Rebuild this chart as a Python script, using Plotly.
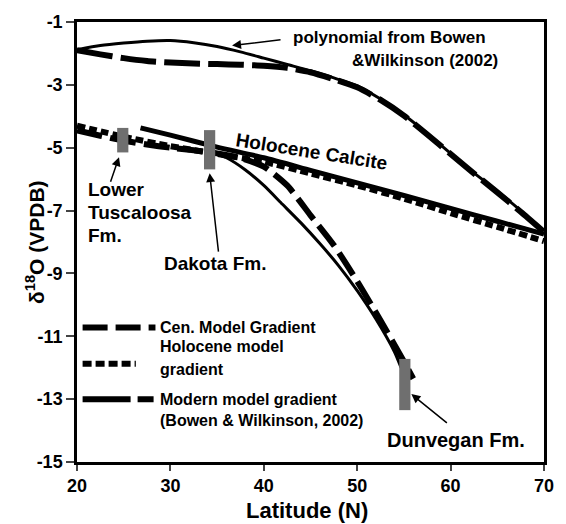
import plotly.graph_objects as go

# ---------------- data ----------------
GRID_LAT = [20, 22.5, 25, 27.5, 30, 32.5, 35, 37.5, 40, 42.5, 45, 47.5, 50, 52.5, 55, 57.5, 60, 62.5, 65, 67.5, 70]
POLY_D = [-1.88, -1.75, -1.67, -1.61, -1.59, -1.66, -1.78, -1.95, -2.15, -2.35, -2.55, -2.78, -3.03,
          -3.45, -3.95, -4.55, -5.18, -5.8, -6.38, -7.0, -7.65]
MODERN_D = [-1.9, -2.03, -2.15, -2.24, -2.29, -2.32, -2.34, -2.36, -2.39, -2.46, -2.6, -2.82, -3.08,
            -3.48, -3.98, -4.58, -5.2, -5.82, -6.42, -7.04, -7.68]

HOLO_LAT = [20, 25, 30, 35, 40, 45, 50, 55, 60, 65, 70]
HOLO_D = [-4.3, -4.65, -4.95, -5.2, -5.45, -5.82, -6.2, -6.62, -7.08, -7.52, -7.97]

CALCITE_LAT = [26.8, 30, 35, 40, 45, 50, 55, 60, 65, 70]
CALCITE_D = [-4.37, -4.6, -4.98, -5.32, -5.72, -6.12, -6.52, -6.93, -7.34, -7.75]

CEN_LAT = [20, 22.5, 25, 27.5, 30, 32.5, 35, 37.5, 40, 42.5, 45, 47.5, 50, 52.5, 55, 56]
CEN_D = [-4.45, -4.62, -4.78, -4.9, -5.0, -5.08, -5.18, -5.33, -5.6, -6.2, -7.15, -8.1, -9.25,
         -10.5, -11.8, -12.35]

SOLID2_LAT = [34, 36, 38, 40, 42, 44, 46, 48, 50, 52, 54, 54.7]
SOLID2_D = [-5.1, -5.32, -5.7, -6.2, -6.8, -7.4, -8.05, -8.75, -9.55, -10.45, -11.5, -12.0]

FM_NAMES = ["Lower<br>Tuscaloosa<br>Fm.", "Dakota Fm.", "Dunvegan Fm."]
FM_LAT = [24.9, 34.2, 55.1]
FM_LO = [-5.15, -5.69, -13.35]
FM_HI = [-4.37, -4.44, -11.72]

X_TICKS = [20, 30, 40, 50, 60, 70]
Y_TICKS = [-1, -3, -5, -7, -9, -11, -13, -15]
Y_TICKTEXT = ["-1", "-3", "-5", "-7", "-9", "-11", "-13", "-15"]

# ---------------- style ----------------
FONT = "Liberation Sans, Arial, Helvetica, sans-serif"
BAR_HALF = 0.6
BAR_COLOR = "#6f6f6f"
CEN_DASH = "26px,8px"
HOLO_DASH = "8px,4px"
MODERN_DASH = "36px,8px"

fig = go.Figure()

def line(x, y, width, dash="solid"):
    fig.add_trace(go.Scatter(x=x, y=y, mode="lines", line=dict(color="black", width=width, dash=dash,
                                                                shape="spline", smoothing=0.6),
                             hoverinfo="skip", showlegend=False))

line(CALCITE_LAT, CALCITE_D, 5)
line(HOLO_LAT, HOLO_D, 6, HOLO_DASH)
line(CEN_LAT, CEN_D, 6, CEN_DASH)
line(SOLID2_LAT, SOLID2_D, 3)
line(GRID_LAT, POLY_D, 3)
line(GRID_LAT, MODERN_D, 6, MODERN_DASH)

for c, lo, hi in zip(FM_LAT, FM_LO, FM_HI):
    fig.add_trace(go.Scatter(x=[c - BAR_HALF, c + BAR_HALF, c + BAR_HALF, c - BAR_HALF, c - BAR_HALF],
                             y=[lo, lo, hi, hi, lo], mode="lines", fill="toself",
                             fillcolor=BAR_COLOR, line=dict(width=0, color=BAR_COLOR),
                             hoverinfo="skip", showlegend=False))

bold = dict(family=FONT, size=19, color="black", weight="bold")
lab = dict(family=FONT, size=16, color="black", weight="bold")
lab17 = dict(family=FONT, size=17, color="black", weight="bold")

ann = []
def arrow(x, y, ax, ay):
    ann.append(dict(x=x, y=y, xref="x", yref="y", ax=ax, ay=ay, text="", showarrow=True,
                    arrowhead=2, arrowsize=1.2, arrowwidth=1.5, arrowcolor="black"))

arrow(36.6, -1.75, 50, -6)
arrow(FM_LAT[0] - 0.4, FM_LO[0] - 0.15, -9, 26)
arrow(FM_LAT[1], FM_LO[1] - 0.12, 9, 80)
arrow(FM_LAT[2] + 0.7, -12.84, 37, 30)

def text_lines(x, y_first, step, text, font, xanchor="left"):
    for i, t in enumerate(text.split("<br>")):
        ann.append(dict(x=x, y=y_first - i * step, xref="x", yref="y", text=t, showarrow=False,
                        xanchor=xanchor, yanchor="middle", font=font))

ann.append(dict(x=42.9, y=-1.5, xref="x", yref="y", text="polynomial from Bowen", showarrow=False,
                xanchor="left", yanchor="middle", font=lab17))
ann.append(dict(x=49.2, y=-2.22, xref="x", yref="y", text="&Wilkinson (2002)", showarrow=False,
                xanchor="left", yanchor="middle", font=lab17))
ann.append(dict(x=45.1, y=-5.13, xref="x", yref="y", text="Holocene Calcite", showarrow=False,
                textangle=9, font=bold))
text_lines(20.95, -6.34, 0.72, FM_NAMES[0], bold)
ann.append(dict(x=34.8, y=-8.68, xref="x", yref="y", text=FM_NAMES[1], showarrow=False, font=bold))
ann.append(dict(x=60.6, y=-14.31, xref="x", yref="y", text=FM_NAMES[2], showarrow=False,
                font=dict(family=FONT, size=20, color="black", weight="bold")))

# legend texts
text_lines(28.7, -10.72, 0.7, "Cen. Model Gradient", lab)
text_lines(28.7, -11.34, 0.72, "Holocene model<br>gradient", lab)
text_lines(28.7, -13.0, 0.69, "Modern model gradient<br>(Bowen & Wilkinson, 2002)", lab)

# axis titles
ann.append(dict(x=0, y=-8.0, xref="paper", yref="y", xshift=-57, text="δ<sup>18</sup>O (VPDB)",
                showarrow=False, textangle=-90, font=dict(family=FONT, size=21, color="black", weight="bold")))
ann.append(dict(x=44.6, y=0, xref="x", yref="paper", yshift=-34, yanchor="top", text="Latitude (N)",
                showarrow=False, font=dict(family=FONT, size=22, color="black", weight="bold")))

shapes = [
    dict(type="line", xref="x", yref="y", x0=20.6, x1=28.4, y0=-10.72, y1=-10.72,
         line=dict(color="black", width=6, dash="25px,8px")),
    dict(type="line", xref="x", yref="y", x0=20.6, x1=26.3, y0=-11.875, y1=-11.875,
         line=dict(color="black", width=6, dash="9px,4px")),
    dict(type="line", xref="x", yref="y", x0=20.6, x1=28.2, y0=-13.0, y1=-13.0,
         line=dict(color="black", width=6, dash="48px,7px")),
]

tickfont = dict(family=FONT, size=18, color="black", weight="bold")
fig.update_layout(
    width=566, height=524, margin=dict(l=77, r=13, t=14, b=62),
    paper_bgcolor="white", plot_bgcolor="white", showlegend=False,
    annotations=ann, shapes=shapes,
    xaxis=dict(range=[20, 70], tickvals=X_TICKS, ticks="outside", ticklen=6, tickwidth=2,
               showline=True, linewidth=2.5, linecolor="black", mirror=True, showgrid=False,
               zeroline=False, tickfont=tickfont),
    yaxis=dict(range=[-15, -1], tickvals=Y_TICKS, ticktext=Y_TICKTEXT, ticks="outside", ticklen=8,
               tickwidth=2, showline=True, linewidth=2.5, linecolor="black", mirror=True,
               showgrid=False, zeroline=False, tickfont=tickfont),
)

fig.write_html("out.html")
